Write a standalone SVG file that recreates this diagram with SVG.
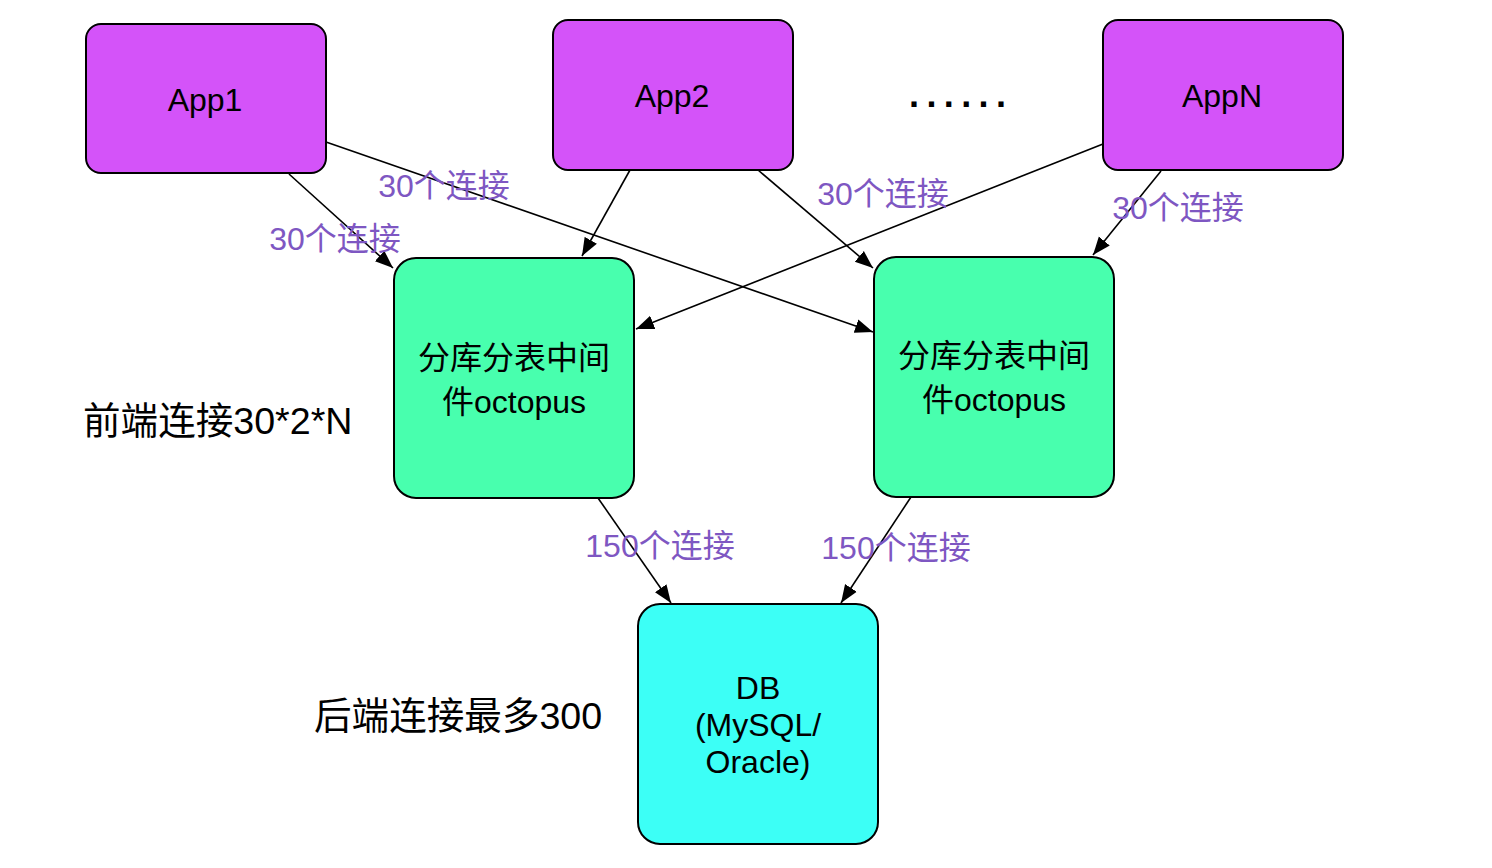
<svg xmlns="http://www.w3.org/2000/svg" width="1492" height="868" viewBox="0 0 1492 868">
<style>
.node{stroke:#000;stroke-width:2}
.app{fill:#D453F9}
.mid{fill:#48FFAE}
.db{fill:#3CFFF6}
.t{font-family:"Liberation Sans","Noto Sans CJK SC",sans-serif;font-size:32px;fill:#000;text-anchor:middle}
.lbl{font-family:"Liberation Sans","Noto Sans CJK SC",sans-serif;font-size:32px;fill:#7E57C2;text-anchor:middle}
.big{font-family:"Liberation Sans","Noto Sans CJK SC",sans-serif;font-size:37.6px;fill:#000}
.edge{stroke:#000;stroke-width:1.6;fill:none;marker-end:url(#arr)}
</style>
<defs>
<marker id="arr" markerUnits="userSpaceOnUse" markerWidth="20" markerHeight="16" refX="18" refY="8" orient="auto">
<path d="M0,1 L18,8 L0,15 Z" fill="#000"/>
</marker>
</defs>
<rect width="1492" height="868" fill="#fff"/>
<g id="connectors">
<line class="edge" x1="289" y1="174" x2="393" y2="268"/>
<line class="edge" x1="326" y1="142" x2="873" y2="332"/>
<line class="edge" x1="630" y1="170" x2="582" y2="256"/>
<line class="edge" x1="758" y1="170" x2="873" y2="268"/>
<line class="edge" x1="1103" y1="144" x2="636" y2="329"/>
<line class="edge" x1="1161" y1="171" x2="1093" y2="255"/>
<line class="edge" x1="598" y1="498" x2="671" y2="603"/>
<line class="edge" x1="911" y1="497" x2="841" y2="603"/>
</g>
<g id="edge-labels">
<text class="lbl" x="335" y="250">30个连接</text>
<text class="lbl" x="444" y="197">30个连接</text>
<text class="lbl" x="883" y="205">30个连接</text>
<text class="lbl" x="1178" y="219">30个连接</text>
<text class="lbl" x="660" y="557">150个连接</text>
<text class="lbl" x="896" y="559">150个连接</text>
</g>
<g id="app1">
<rect class="node app" x="86" y="24" width="240" height="149" rx="15"/>
<text class="t" x="205" y="111">App1</text>
</g>
<g id="app2">
<rect class="node app" x="553" y="20" width="240" height="150" rx="15"/>
<text class="t" x="672" y="107">App2</text>
</g>
<g id="dots">
<text x="909" y="107" style="font-family:'Liberation Sans',sans-serif;font-size:36px;font-weight:bold;letter-spacing:7.4px;fill:#000">......</text>
</g>
<g id="appN">
<rect class="node app" x="1103" y="20" width="240" height="150" rx="15"/>
<text class="t" x="1222" y="107">AppN</text>
</g>
<g id="octopus1">
<rect class="node mid" x="394" y="258" width="240" height="240" rx="22"/>
<text class="t" x="514" y="369">分库分表中间</text>
<text class="t" x="514" y="413">件octopus</text>
</g>
<g id="octopus2">
<rect class="node mid" x="874" y="257" width="240" height="240" rx="22"/>
<text class="t" x="994" y="367">分库分表中间</text>
<text class="t" x="994" y="411">件octopus</text>
</g>
<g id="db">
<rect class="node db" x="638" y="604" width="240" height="240" rx="22"/>
<text class="t" x="758" y="699">DB</text>
<text class="t" x="758" y="736">(MySQL/</text>
<text class="t" x="758" y="773">Oracle)</text>
</g>
<g id="notes">
<text class="big" x="83" y="434">前端连接30*2*N</text>
<text class="big" x="314" y="729">后端连接最多300</text>
</g>
</svg>
